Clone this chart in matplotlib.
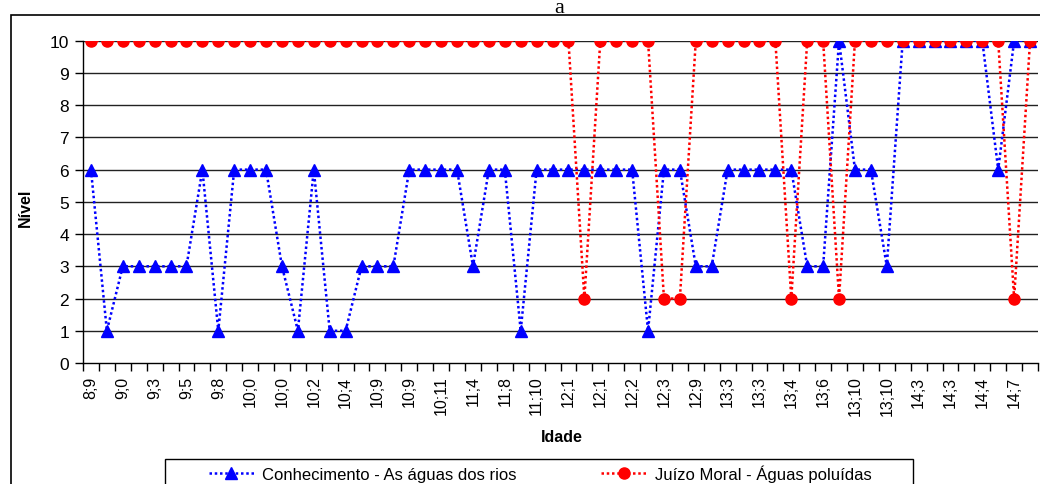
import matplotlib
matplotlib.use("Agg")
import matplotlib.pyplot as plt
from matplotlib.patches import Rectangle
import numpy as np

plt.rcParams['font.family'] = ['Liberation Sans', 'DejaVu Sans']

# Data
idade_labels = ["8;9", "9;0", "9;3", "9;5", "9;8", "10;0", "10;0", "10;2", "10;4", "10;9",
                "10;9", "10;11", "11;4", "11;8", "11;10", "12;1", "12;1", "12;2", "12;3", "12;9",
                "13;3", "13;3", "13;4", "13;6", "13;10", "13;10", "14;3", "14;3", "14;4", "14;7"]

conhecimento = [6, 1, 3, 3, 3, 3, 3, 6, 1, 6,
                6, 6, 3, 1, 6, 1, 1, 3, 3, 3,
                6, 6, 6, 6, 3, 6, 6, 1, 6, 6,
                6, 6, 6, 6, 6, 1, 6, 6, 3, 3,
                6, 6, 6, 6, 6, 3, 3, 10, 6, 6,
                3, 10, 10, 10, 10, 10, 10, 6, 10, 10]

juizo_moral = [10, 10, 10, 10, 10, 10, 10, 10, 10, 10,
               10, 10, 10, 10, 10, 10, 10, 10, 10, 10,
               10, 10, 10, 10, 10, 10, 10, 10, 10, 10,
               10, 2, 10, 10, 10, 10, 2, 2, 10, 10,
               10, 10, 10, 10, 2, 10, 10, 2, 10, 10,
               10, 10, 10, 10, 10, 10, 10, 10, 2, 10]

serie1_nome = "Conhecimento - As águas dos rios"
serie2_nome = "Juízo Moral - Águas poluídas"

W, H = 1040, 485
fig = plt.figure(figsize=(W / 100, H / 100), dpi=100)
ax = fig.add_axes([83 / W, 1 - 364 / H, (1038 - 83) / W, (364 - 41.7) / H])

x = np.arange(len(conhecimento))

# horizontal gridlines
for v in range(1, 11):
    ax.axhline(v, color='#222222', lw=1.0, zorder=1)

ax.plot(x, conhecimento, color='#0000FF', lw=1.8, linestyle=(0, (1, 1.1)),
        marker='^', markersize=9, markerfacecolor='#0000FF', markeredgecolor='#0000FF',
        label=serie1_nome, zorder=3)
ax.plot(x, juizo_moral, color='#FF0000', lw=1.8, linestyle=(0, (1, 1.1)),
        marker='o', markersize=8, markerfacecolor='#FF0000', markeredgecolor='#FF0000',
        label=serie2_nome, zorder=4)

ax.set_xlim(-0.5, len(x) - 0.5)
ax.set_ylim(0, 10)
ax.set_yticks(range(0, 11))
ax.tick_params(axis='y', direction='out', length=6, width=1, labelsize=12.5, pad=4)

# category boundary ticks, labels on every other category
ax.set_xticks(np.arange(-0.5, len(x) + 0.5, 1))
ax.set_xticklabels([])
ax.tick_params(axis='x', which='major', direction='out', length=6, width=1)
ax.set_xticks(x[::2], minor=True)
ax.set_xticklabels(idade_labels, minor=True, rotation=90, fontsize=11.5)
ax.tick_params(axis='x', which='minor', length=0, pad=9)

for s in ['top', 'right']:
    ax.spines[s].set_visible(False)
for s in ['left', 'bottom']:
    ax.spines[s].set_color('black')
    ax.spines[s].set_linewidth(1)

fig.text(562 / W, 1 - 438 / H, "Idade", ha='center', va='center', fontsize=11.5, fontweight='bold')
fig.text(25 / W, 1 - 208 / H, "Nível", ha='center', va='center', rotation=90,
         fontsize=11.5, fontweight='bold')

# title
fig.text(559 / W, 1 - 13 / H, "a", ha='center', va='baseline', fontsize=16,
         family='Liberation Serif')

# outer chart frame
fig.patches.append(Rectangle((11 / W, -0.1), 1.2, 1.1 - 16 / H, transform=fig.transFigure,
                             fill=False, edgecolor='black', lw=1.2))

# legend
leg = fig.legend(loc='center', bbox_to_anchor=(540 / W, 1 - 474 / H), ncol=2,
                 frameon=False, fontsize=12, handlelength=2.7, handletextpad=0.5,
                 columnspacing=5.1, borderpad=0)
fig.patches.append(Rectangle((165 / W, 1 - 495 / H), (913 - 165) / W, 35 / H,
                             transform=fig.transFigure, fill=False, edgecolor='black', lw=1))

fig.savefig("out.png", dpi=100)
